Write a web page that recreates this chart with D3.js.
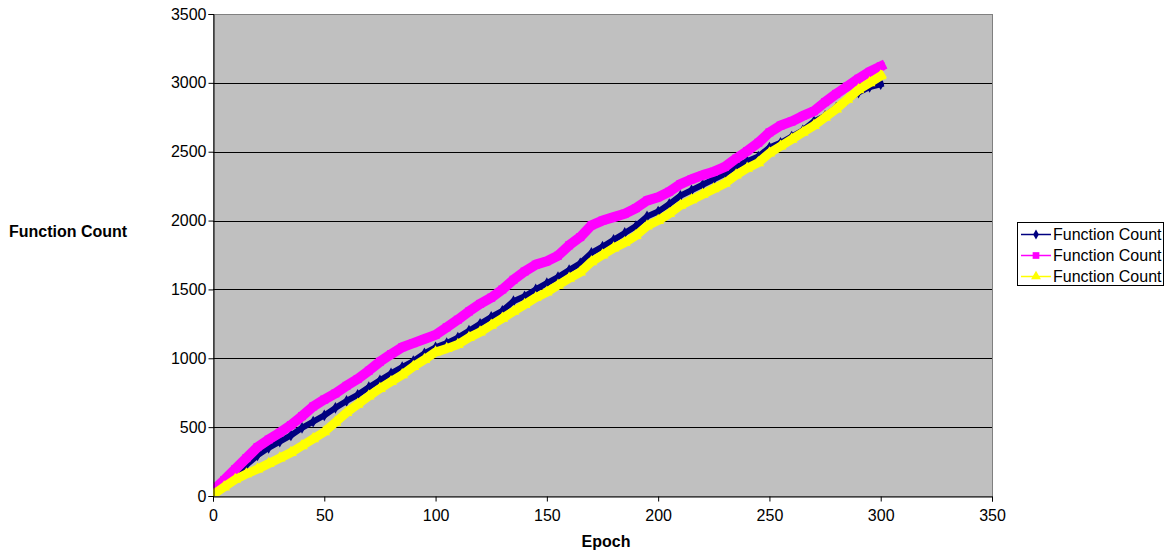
<!DOCTYPE html>
<html>
<head>
<meta charset="utf-8">
<script src="https://cdn.jsdelivr.net/npm/d3@7"></script>
<style>
  body { margin: 0; background: #fff; }
  svg { display: block; font-family: "Liberation Sans", Arial, sans-serif; }
</style>
</head>
<body>
<svg id="chart"></svg>
<script>
// epochs sampled every 5
let epochs = d3.range(0, 301, 5);

let seriesNames = ["Function Count", "Function Count", "Function Count"];

let navyCounts = [20, 90, 160, 225, 295, 350, 395, 440, 495, 540, 585, 640, 690, 735, 790, 840,
    890, 935, 980, 1035, 1080, 1110, 1150, 1200, 1250, 1300, 1345, 1415, 1450, 1500, 1545,
    1590, 1640, 1690, 1765, 1810, 1860, 1910, 1960, 2030, 2065, 2120, 2180, 2220, 2260, 2300,
    2340, 2395, 2430, 2465, 2530, 2565, 2610, 2655, 2720, 2760, 2820, 2880, 2930, 2970, 2990];

let pinkCounts = [40, 115, 195, 275, 355, 410, 460, 515, 580, 650, 700, 745, 800, 850, 910, 975,
    1030, 1080, 1110, 1140, 1170, 1225, 1280, 1340, 1395, 1440, 1500, 1570, 1630, 1680, 1705,
    1745, 1820, 1880, 1965, 2000, 2025, 2050, 2090, 2145, 2170, 2210, 2265, 2300, 2330, 2355,
    2390, 2450, 2505, 2565, 2640, 2690, 2720, 2760, 2795, 2860, 2920, 2975, 3030, 3080, 3120];

let yellowCounts = [10, 65, 120, 160, 195, 235, 275, 315, 365, 415, 465, 535, 605, 665, 725, 780,
    830, 880, 940, 990, 1045, 1070, 1100, 1150, 1190, 1240, 1290, 1340, 1390, 1440, 1480,
    1530, 1580, 1625, 1700, 1750, 1800, 1840, 1890, 1960, 2000, 2050, 2110, 2150, 2190, 2230,
    2270, 2330, 2380, 2420, 2490, 2540, 2590, 2640, 2690, 2750, 2810, 2880, 2950, 3000, 3050];

let xTicks = [0, 50, 100, 150, 200, 250, 300, 350];
let yTicks = [0, 500, 1000, 1500, 2000, 2500, 3000, 3500];

let width = 1168;
let height = 555;
let plot = { left: 213, right: 992, top: 14, bottom: 496 };
let fontSize = "16px";

let styles = [
    { color: "#000080", symbol: d3.symbolDiamond, band: 6, size: 40 },
    { color: "#ff00ff", symbol: d3.symbolSquare, band: 10, size: 64 },
    { color: "#ffff00", symbol: d3.symbolTriangle, band: 9, size: 60 }
];

let svg = d3.select("#chart")
    .attr("width", width)
    .attr("height", height);

let x = d3.scaleLinear().domain([0, 350]).range([plot.left, plot.right]);
let y = d3.scaleLinear().domain([0, 3500]).range([plot.bottom, plot.top]);

// plot area background
svg.append("rect")
    .attr("x", plot.left + 0.5)
    .attr("y", plot.top + 0.5)
    .attr("width", plot.right - plot.left)
    .attr("height", plot.bottom - plot.top)
    .attr("fill", "#c0c0c0")
    .attr("stroke", "#808080")
    .attr("stroke-width", 1);

// gridlines
svg.append("g")
    .selectAll("line")
    .data(yTicks.filter(d => d > 0 && d < 3500))
    .enter()
    .append("line")
    .attr("x1", plot.left)
    .attr("x2", plot.right)
    .attr("y1", d => Math.round(y(d)) + 0.5)
    .attr("y2", d => Math.round(y(d)) + 0.5)
    .attr("stroke", "#000")
    .attr("stroke-width", 1);

// series, first one at the bottom
let data = [navyCounts, pinkCounts, yellowCounts];
let line = d3.line()
    .x((d, i) => x(epochs[i]))
    .y(d => y(d));

svg.append("clipPath").attr("id", "plotclip")
    .append("rect")
    .attr("x", plot.left)
    .attr("y", plot.top - 10)
    .attr("width", plot.right - plot.left + 10)
    .attr("height", plot.bottom - plot.top + 10);

let seriesG = svg.append("g").attr("clip-path", "url(#plotclip)");

data.forEach(function(values, k) {
    let s = styles[k];
    let g = seriesG.append("g");
    g.append("path")
        .datum(values)
        .attr("d", line)
        .attr("fill", "none")
        .attr("stroke", s.color)
        .attr("stroke-width", s.band)
        .attr("stroke-linejoin", "round")
        .attr("stroke-linecap", "square");
    g.selectAll("path.mark")
        .data(values)
        .enter()
        .append("path")
        .attr("class", "mark")
        .attr("d", d3.symbol().type(s.symbol).size(s.size))
        .attr("transform", (d, i) => "translate(" + x(epochs[i]) + "," + y(d) + ")")
        .attr("fill", s.color);
});

// axes
let yAxis = d3.axisLeft(y).tickValues(yTicks).tickFormat(d3.format("d")).tickSize(5).tickPadding(2);
let xAxis = d3.axisBottom(x).tickValues(xTicks).tickFormat(d3.format("d")).tickSize(5).tickPadding(8);

svg.append("g")
    .attr("transform", "translate(" + (plot.left + 0.5) + ",0)")
    .call(yAxis)
    .call(g => g.select(".domain").attr("stroke", "#000"))
    .selectAll("text")
    .attr("font-size", fontSize)
    .attr("font-family", "Liberation Sans, Arial, sans-serif")
    .attr("fill", "#000");

svg.append("g")
    .attr("transform", "translate(0," + (plot.bottom + 0.5) + ")")
    .call(xAxis)
    .call(g => g.select(".domain").attr("stroke", "#000"))
    .selectAll("text")
    .attr("font-size", fontSize)
    .attr("font-family", "Liberation Sans, Arial, sans-serif")
    .attr("fill", "#000");

// axis titles
svg.append("text")
    .text("Epoch")
    .attr("x", 606)
    .attr("y", 547)
    .attr("text-anchor", "middle")
    .attr("font-size", fontSize)
    .attr("font-weight", "bold");

svg.append("text")
    .text("Function Count")
    .attr("x", 68)
    .attr("y", 237)
    .attr("text-anchor", "middle")
    .attr("font-size", fontSize)
    .attr("font-weight", "bold");

// legend
let legend = svg.append("g").attr("transform", "translate(1017,222)");
legend.append("rect")
    .attr("x", 0.5)
    .attr("y", 0.5)
    .attr("width", 146)
    .attr("height", 63)
    .attr("fill", "#fff")
    .attr("stroke", "#000");

let items = legend.selectAll("g.item")
    .data(seriesNames)
    .enter()
    .append("g")
    .attr("class", "item")
    .attr("transform", (d, i) => "translate(0," + (12 + i * 21) + ")");

items.append("line")
    .attr("x1", 4)
    .attr("x2", 34)
    .attr("y1", 0.5)
    .attr("y2", 0.5)
    .attr("stroke", (d, i) => styles[i].color)
    .attr("stroke-width", 1.5);

items.append("path")
    .attr("d", (d, i) => d3.symbol().type(styles[i].symbol).size(styles[i].size * 0.7)())
    .attr("transform", "translate(19,0.5)")
    .attr("fill", (d, i) => styles[i].color);

items.append("text")
    .text(d => d)
    .attr("x", 36)
    .attr("y", 6)
    .attr("font-size", fontSize)
    .attr("fill", "#000");
</script>
</body>
</html>
